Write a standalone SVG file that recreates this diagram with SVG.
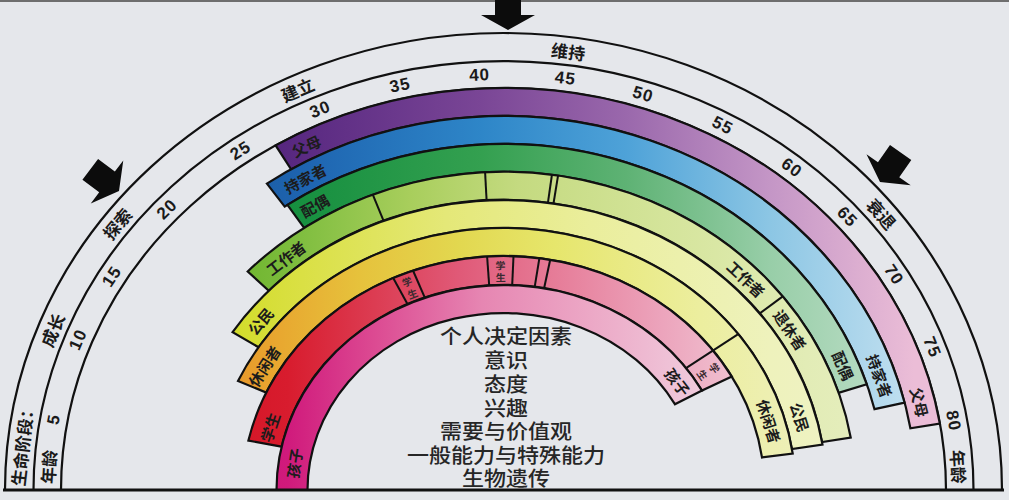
<svg xmlns="http://www.w3.org/2000/svg" width="1009" height="500" viewBox="0 0 1009 500">
<style>
.ln{fill:none;stroke:#111;stroke-width:2.2}
.band{stroke:#111;stroke-width:2.2;stroke-linejoin:miter}
.dv{stroke:#111;stroke-width:2}
.lab{font-family:'Noto Sans CJK SC','Noto Sans',sans-serif;font-size:15px;font-weight:700;fill:#1c1c1c;text-anchor:middle;dominant-baseline:central}
.stage{font-family:'Noto Sans CJK SC','Noto Sans',sans-serif;font-size:17px;font-weight:700;fill:#1a1a1a;text-anchor:middle;dominant-baseline:central}
.age{font-family:'Liberation Sans','Noto Sans CJK SC',sans-serif;font-size:17px;font-weight:700;fill:#1a1a1a;text-anchor:middle;dominant-baseline:central;letter-spacing:1px}
.sm{font-family:'Noto Sans CJK SC','Noto Sans',sans-serif;font-size:10px;font-weight:700;fill:#3a2a30;text-anchor:middle;dominant-baseline:central}
.ctr{font-family:'Liberation Sans','Noto Sans CJK SC',sans-serif;font-size:20px;font-weight:500;fill:#262626;text-anchor:middle;dominant-baseline:central}
.arw{fill:#0c0c0c}
</style>
<defs>
<linearGradient id="gParent" gradientUnits="userSpaceOnUse" x1="230" y1="0" x2="950" y2="0">
<stop offset="0" stop-color="#4e1f78"/><stop offset="0.1" stop-color="#5a2a82"/><stop offset="0.35" stop-color="#7a4696"/><stop offset="0.55" stop-color="#9a68ac"/><stop offset="0.75" stop-color="#c496c6"/><stop offset="0.95" stop-color="#ebbdd7"/></linearGradient>
<linearGradient id="gHome" gradientUnits="userSpaceOnUse" x1="230" y1="0" x2="950" y2="0">
<stop offset="0" stop-color="#1a5aa0"/><stop offset="0.1" stop-color="#1e64b0"/><stop offset="0.35" stop-color="#2e86c8"/><stop offset="0.55" stop-color="#4ea2d8"/><stop offset="0.75" stop-color="#8cc6e4"/><stop offset="0.95" stop-color="#c2e0f0"/></linearGradient>
<linearGradient id="gSpouse" gradientUnits="userSpaceOnUse" x1="230" y1="0" x2="950" y2="0">
<stop offset="0" stop-color="#128a3a"/><stop offset="0.1" stop-color="#179040"/><stop offset="0.35" stop-color="#34a050"/><stop offset="0.55" stop-color="#5eb274"/><stop offset="0.75" stop-color="#98cea8"/><stop offset="0.95" stop-color="#c2e0cc"/></linearGradient>
<linearGradient id="gWork" gradientUnits="userSpaceOnUse" x1="230" y1="0" x2="950" y2="0">
<stop offset="0" stop-color="#6cb42c"/><stop offset="0.1" stop-color="#80be40"/><stop offset="0.25" stop-color="#a8ce5c"/><stop offset="0.4" stop-color="#c4da80"/><stop offset="0.6" stop-color="#d4e49a"/><stop offset="0.8" stop-color="#e2ecb6"/><stop offset="1" stop-color="#eaf0c8"/></linearGradient>
<linearGradient id="gCitizen" gradientUnits="userSpaceOnUse" x1="230" y1="0" x2="950" y2="0">
<stop offset="0" stop-color="#d2dc2a"/><stop offset="0.1" stop-color="#dae044"/><stop offset="0.3" stop-color="#e4e878"/><stop offset="0.5" stop-color="#eaee9c"/><stop offset="0.75" stop-color="#eef2bc"/><stop offset="1" stop-color="#f0f2d0"/></linearGradient>
<linearGradient id="gLeisure" gradientUnits="userSpaceOnUse" x1="230" y1="0" x2="950" y2="0">
<stop offset="0" stop-color="#e8962a"/><stop offset="0.07" stop-color="#e8a830"/><stop offset="0.18" stop-color="#e6c23c"/><stop offset="0.32" stop-color="#e2d850"/><stop offset="0.45" stop-color="#e6e66c"/><stop offset="0.65" stop-color="#ecee9e"/><stop offset="0.85" stop-color="#eef0c4"/></linearGradient>
<linearGradient id="gStudent" gradientUnits="userSpaceOnUse" x1="230" y1="0" x2="950" y2="0">
<stop offset="0" stop-color="#d41626"/><stop offset="0.08" stop-color="#d81c2e"/><stop offset="0.2" stop-color="#dc3c52"/><stop offset="0.32" stop-color="#e05a78"/><stop offset="0.45" stop-color="#e67c98"/><stop offset="0.6" stop-color="#eca4bc"/><stop offset="0.7" stop-color="#f0c0d0"/></linearGradient>
<linearGradient id="gChild" gradientUnits="userSpaceOnUse" x1="230" y1="0" x2="950" y2="0">
<stop offset="0" stop-color="#cc1474"/><stop offset="0.08" stop-color="#d01a7c"/><stop offset="0.2" stop-color="#dc4a92"/><stop offset="0.35" stop-color="#e686b2"/><stop offset="0.5" stop-color="#eca8c6"/><stop offset="0.65" stop-color="#f0cadc"/></linearGradient>
<polygon id="arrowShape" points="-13,-36 13,-36 13,-15 27,-15 0,0 -27,-15 -13,-15"/>
</defs>
<rect x="0" y="0" width="1009" height="500" fill="#e5e7eb"/>
<rect x="0" y="0" width="1009" height="2" fill="#6e6e6e"/>

<g id="scale-rings">
<path class="ln" d="M5,490 A498.5,457 0 0 1 1002,490"/>
<path class="ln" d="M33.5,490 A470,429 0 0 1 973.5,490"/>
<path class="ln" d="M61,490 A442.5,402 0 0 1 946,490"/>
</g>

<g id="life-stages">
<text class="stage" transform="translate(21.9,443.7) rotate(-83.4)">生命阶段：</text>
<text class="stage" transform="translate(52,329.8) rotate(-67)">成长</text>
<text class="stage" transform="translate(116.8,223.4) rotate(-50.5)">探索</text>
<text class="stage" transform="translate(297.3,89.2) rotate(-23.3)">建立</text>
<text class="stage" transform="translate(568.4,51) rotate(7)">维持</text>
<text class="stage" transform="translate(881.9,213.6) rotate(48.9)">衰退</text>
</g>

<g id="ages">
<text class="stage" transform="translate(48,466.8) rotate(-86.5)">年龄</text>
<text class="age" transform="translate(53.9,419.3) rotate(-79.3)">5</text>
<text class="age" transform="translate(78.1,339.7) rotate(-66.9)">10</text>
<text class="age" transform="translate(112,276.6) rotate(-56.7)">15</text>
<text class="age" transform="translate(167.1,209.3) rotate(-44.8)">20</text>
<text class="age" transform="translate(240.5,150.5) rotate(-32.7)">25</text>
<text class="age" transform="translate(320.1,109.5) rotate(-21.8)">30</text>
<text class="age" transform="translate(400.1,85.3) rotate(-12)">35</text>
<text class="age" transform="translate(479.6,75.1) rotate(-2.7)">40</text>
<text class="age" transform="translate(565.4,78.3) rotate(7.1)">45</text>
<text class="age" transform="translate(643,94.4) rotate(16.3)">50</text>
<text class="age" transform="translate(722.6,125.5) rotate(26.5)">55</text>
<text class="age" transform="translate(791.7,167.9) rotate(36.6)">60</text>
<text class="age" transform="translate(847.3,216.9) rotate(46.2)">65</text>
<text class="age" transform="translate(893.8,274.8) rotate(56.4)">70</text>
<text class="age" transform="translate(932,347.2) rotate(68.1)">75</text>
<text class="age" transform="translate(953.4,420.7) rotate(79.5)">80</text>
<text class="stage" transform="translate(959,466.8) rotate(86.5)">年龄</text>
</g>

<g id="role-parent">
<path class="band" fill="url(#gParent)" d="M275.6,145.4 A442.5,402 0 0 1 939.9,423.7 L910.4,428.3 A412.5,374 0 0 0 291.1,169.4 Z"/>
<text class="lab" transform="translate(306.1,145.8) rotate(-25.3)">父母</text>
<text class="lab" transform="translate(919.9,402.1) rotate(75.6)">父母</text>
</g>

<g id="role-homemaker">
<path class="band" fill="url(#gHome)" d="M266.9,183.6 A412.5,374 0 0 1 904.6,402.7 L874.5,409.2 A381.5,346 0 0 0 284.7,206.6 Z"/>
<text class="lab" transform="translate(305,178.2) rotate(-27.6)">持家者</text>
<text class="lab" transform="translate(880,375.8) rotate(69.7)">持家者</text>
</g>

<g id="role-spouse">
<path class="band" fill="url(#gSpouse)" d="M287.4,204.9 A381.5,346 0 0 1 866.7,384.2 L838.6,392.8 A352,318 0 0 0 304.1,227.9 Z"/>
<text class="lab" transform="translate(314.6,205.4) rotate(-28.5)">配偶</text>
<text class="lab" transform="translate(843.5,365.6) rotate(66)">配偶</text>
</g>

<g id="role-worker">
<path class="band" fill="url(#gWork)" d="M247.7,271.5 A352,318 0 0 1 850.7,437.5 L822.1,442.1 A323,290 0 0 0 268.8,290.7 Z"/>
<line class="dv" x1="372.8" y1="194.7" x2="383.5" y2="220.7"/>
<line class="dv" x1="485.1" y1="172.4" x2="486.6" y2="200.4"/>
<line class="dv" x1="551.9" y1="175" x2="547.9" y2="202.8"/>
<line class="dv" x1="558" y1="175.8" x2="553.5" y2="203.5"/>
<line class="dv" x1="782.8" y1="296.4" x2="759.8" y2="313.4"/>
<text class="lab" transform="translate(285.7,257.8) rotate(-37.3)">工作者</text>
<text class="lab" transform="translate(746.3,278.8) rotate(43)">工作者</text>
<text class="lab" transform="translate(790.3,329.8) rotate(55.5)">退休者</text>
</g>

<g id="role-citizen">
<path class="band" fill="url(#gCitizen)" d="M232.6,332.1 A323,290 0 0 1 822.5,444.6 L791.9,449 A292,262 0 0 0 258.6,347.3 Z"/>
<text class="lab" transform="translate(260.4,321) rotate(-49.2)">公民</text>
<text class="lab" transform="translate(800.1,417.2) rotate(73)">公民</text>
</g>

<g id="role-leisurite">
<path class="band" fill="url(#gLeisure)" d="M238,380.9 A292,262 0 0 1 792.7,453.5 L762,457.4 A261,234 0 0 0 266.2,392.6 Z"/>
<text class="lab" transform="translate(264,366) rotate(-57.2)">休闲者</text>
<text class="lab" transform="translate(769.2,421.2) rotate(72.2)">休闲者</text>
</g>

<g id="role-student">
<path class="band" fill="url(#gStudent)" d="M248.4,440.6 A261,234 0 0 1 731.8,376.6 L702,390.6 A227,205 0 0 0 281.6,446.7 Z"/>
<line class="dv" x1="393.2" y1="277.9" x2="407.6" y2="304.2"/>
<line class="dv" x1="413" y1="270.5" x2="424.8" y2="297.7"/>
<line class="dv" x1="487.1" y1="256.5" x2="489.2" y2="285.4"/>
<line class="dv" x1="513.5" y1="256.2" x2="512.2" y2="285.1"/>
<line class="dv" x1="539.4" y1="258.2" x2="534.7" y2="286.9"/>
<line class="dv" x1="550.2" y1="259.8" x2="544.1" y2="288.3"/>
<text class="lab" transform="translate(269.7,427.3) rotate(-71.7)">学生</text>
<text class="sm" transform="translate(406.8,281.4) rotate(-20.6)">学</text>
<text class="sm" transform="translate(412.3,293.4) rotate(-20.6)">生</text>
<text class="sm" transform="translate(500.4,265) rotate(-0.6)">学</text>
<text class="sm" transform="translate(500.6,277) rotate(-0.6)">生</text>
<text class="sm" transform="translate(714.8,367.7) rotate(54.4)">学</text>
<text class="sm" transform="translate(702.7,374.8) rotate(54.4)">生</text>
</g>

<g id="role-child">
<path class="band" fill="url(#gChild)" d="M276.5,490 A227,205 0 0 1 702,390.6 L674.9,404.2 A196,177 0 0 0 307.5,490 Z"/>
<text class="lab" transform="translate(294.1,463.1) rotate(-81)">孩子</text>
<text class="lab" transform="translate(677.8,381.8) rotate(52.7)">孩子</text>
</g>

<g id="connectors">
<line class="dv" x1="686" y1="368.1" x2="738.2" y2="334.2"/>
<line class="ln" x1="3" y1="490" x2="1004" y2="490" style="stroke-width:3"/>
<use href="#arrowShape" class="arw" transform="translate(508,30)"/>
<use href="#arrowShape" class="arw" transform="translate(119,191) rotate(-53)"/>
<use href="#arrowShape" class="arw" transform="translate(880,182) rotate(35)"/>
</g>

<g id="determinants" transform="translate(506 0) scale(1.1 1)">
<text class="ctr" x="0" y="337">个人决定因素</text>
<text class="ctr" x="0" y="361">意识</text>
<text class="ctr" x="0" y="385">态度</text>
<text class="ctr" x="0" y="408.5">兴趣</text>
<text class="ctr" x="0" y="432">需要与价值观</text>
<text class="ctr" x="0" y="455.5">一般能力与特殊能力</text>
<text class="ctr" x="0" y="479">生物遗传</text>
</g>
</svg>
